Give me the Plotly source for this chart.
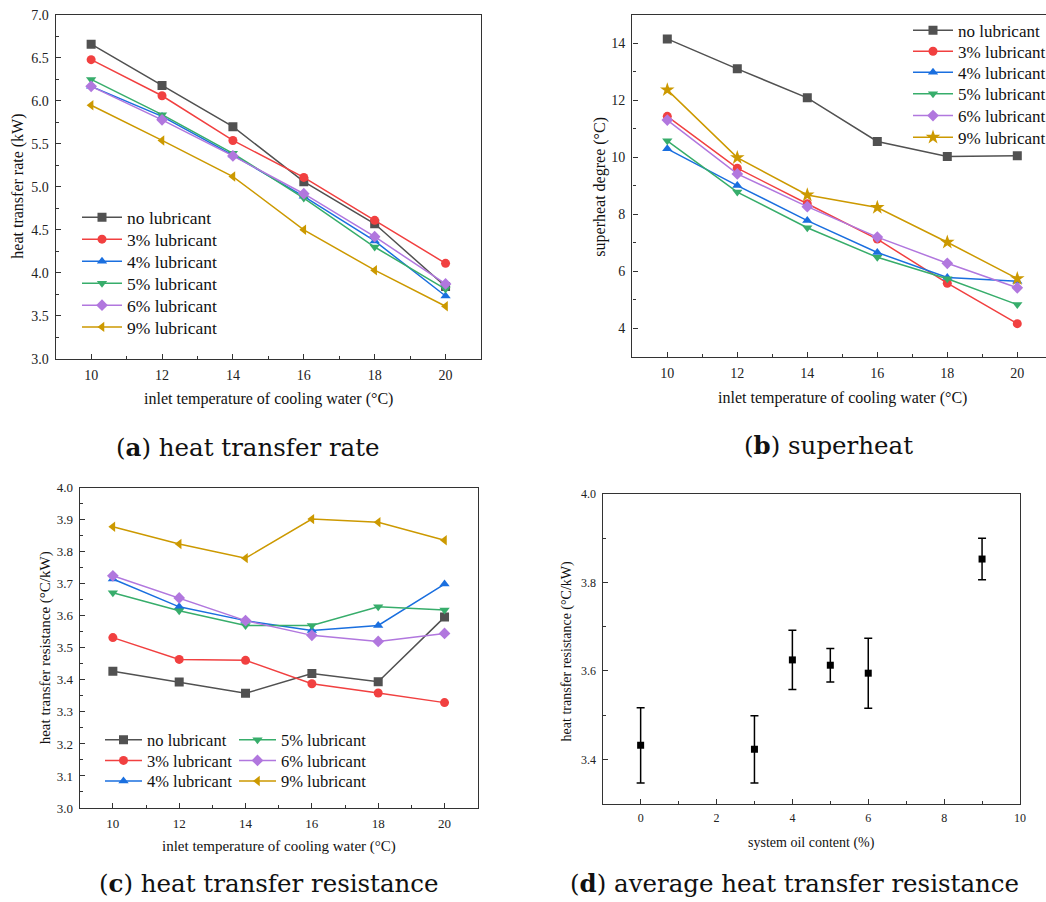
import plotly.graph_objects as go

# ---------------- data ----------------
temps = [10, 12, 14, 16, 18, 20]
series_names = ["no lubricant", "3% lubricant", "4% lubricant",
                "5% lubricant", "6% lubricant", "9% lubricant"]

# (a) heat transfer rate (kW)
rate_no = [6.66, 6.18, 5.70, 5.06, 4.57, 3.84]
rate_3 = [6.48, 6.06, 5.54, 5.11, 4.61, 4.11]
rate_4 = [6.17, 5.82, 5.37, 4.89, 4.37, 3.73]
rate_5 = [6.25, 5.84, 5.39, 4.87, 4.30, 3.81]
rate_6 = [6.17, 5.78, 5.36, 4.92, 4.42, 3.87]
rate_9 = [5.95, 5.54, 5.12, 4.50, 4.03, 3.61]

# (b) superheat degree (°C)
sh_no = [14.16, 13.11, 12.09, 10.56, 10.03, 10.06]
sh_3 = [11.44, 9.62, 8.37, 7.13, 5.58, 4.16]
sh_4 = [10.30, 9.01, 7.78, 6.66, 5.78, 5.65]
sh_5 = [10.58, 8.78, 7.53, 6.49, 5.74, 4.83]
sh_6 = [11.31, 9.42, 8.27, 7.20, 6.28, 5.42]
sh_9 = [12.37, 9.99, 8.68, 8.24, 7.02, 5.74]

# (c) heat transfer resistance (°C/kW)
res_no = [3.427, 3.393, 3.358, 3.420, 3.394, 3.596]
res_3 = [3.532, 3.464, 3.461, 3.388, 3.359, 3.329]
res_4 = [3.715, 3.628, 3.585, 3.554, 3.570, 3.699]
res_5 = [3.672, 3.616, 3.570, 3.570, 3.628, 3.618]
res_6 = [3.725, 3.656, 3.585, 3.539, 3.520, 3.545]
res_9 = [3.878, 3.824, 3.780, 3.902, 3.892, 3.836]

# (d) average heat transfer resistance
oil_content = [0, 3, 4, 5, 6, 9]
avg_res = [3.432, 3.423, 3.625, 3.613, 3.595, 3.853]
avg_err = [0.085, 0.076, 0.067, 0.038, 0.079, 0.047]

colors = ["#515151", "#F14040", "#1A6FDF", "#37AD6B", "#B177DE", "#CC9900"]
symbols_ac = ["square", "circle", "triangle-up", "triangle-down", "diamond", "triangle-left"]
symbols_b = ["square", "circle", "triangle-up", "triangle-down", "diamond", "star"]

FONT = "Liberation Serif"
CAP_FONT = "DejaVu Serif"
W, H = 1046, 902

fig = go.Figure()
legend_layout = {}
legend_counter = [0]


def new_legend(x, yc, size, itemwidth):
    legend_counter[0] += 1
    k = legend_counter[0]
    key = "legend" if k == 1 else f"legend{k}"
    legend_layout[key] = dict(
        x=x / W, y=1 - yc / H, xanchor="left", yanchor="middle",
        bgcolor="rgba(0,0,0,0)", borderwidth=0, itemwidth=itemwidth,
        font=dict(family=FONT, size=size, color="#111111"))
    return key


def add_series(ys, xa, ya, symbols, legend_pos, size, itemwidth):
    for i, (name, y) in enumerate(zip(series_names, ys)):
        lx, lyc = legend_pos[i]
        key = new_legend(lx, lyc, size, itemwidth)
        fig.add_trace(go.Scatter(
            x=temps, y=y, name=name, mode="lines+markers",
            xaxis=xa, yaxis=ya,
            line=dict(color=colors[i], width=1.5),
            marker=dict(symbol=symbols[i], size=11 if symbols[i] == "star" else 9,
                        color=colors[i], line=dict(width=0)),
            legend=key,
        ))


rows_a = [217.3, 239.3, 261.3, 283.3, 305.3, 327.0]
rows_b = [30.7, 51.7, 72.7, 94.3, 116.0, 137.7]
rows_c = [740.0, 760.7, 781.3]

add_series([rate_no, rate_3, rate_4, rate_5, rate_6, rate_9], "x", "y",
           symbols_ac, [(77, r) for r in rows_a], 17.5, 40)
add_series([sh_no, sh_3, sh_4, sh_5, sh_6, sh_9], "x2", "y2",
           symbols_b, [(908, r) for r in rows_b], 17, 40)
add_series([res_no, res_3, res_4, res_5, res_6, res_9], "x3", "y3",
           symbols_ac, [(100, r) for r in rows_c] + [(234, r) for r in rows_c], 16.5, 37)

fig.add_trace(go.Scatter(
    x=oil_content, y=avg_res, mode="markers", xaxis="x4", yaxis="y4",
    marker=dict(symbol="square", size=7, color="#000000"),
    error_y=dict(type="data", array=avg_err, visible=True, color="#000000",
                 thickness=1.5, width=4),
    showlegend=False,
))


def px_x(a, b):
    return [a / W, b / W]


def px_y(top, bottom):
    return [1 - bottom / H, 1 - top / H]


def axis(domain, rng, dtick, minor_dtick, anchor, tick0=None, mirror=True, fs=13, fmt=None):
    d = dict(domain=domain, range=rng, dtick=dtick, tick0=tick0 if tick0 is not None else rng[0],
             showline=True, linecolor="#333333", linewidth=1.4, mirror=mirror,
             ticks="inside", ticklen=5, tickwidth=1.2, tickcolor="#333333",
             showgrid=False, zeroline=False, anchor=anchor,
             ticklabelstandoff=3,
             tickfont=dict(family=FONT, size=fs, color="#222222"),
             minor=dict(ticks="inside", ticklen=3, tickwidth=1.1, tickcolor="#333333",
                        dtick=minor_dtick, showgrid=False))
    if fmt:
        d["tickformat"] = fmt
    return d


fig.update_layout(
    xaxis=axis(px_x(55.7, 481), [9, 21], 2, 1, "y", tick0=10, fs=14),
    yaxis=axis(px_y(15, 358.7), [3.0, 7.0], 0.5, 0.25, "x", fs=14, fmt=".1f"),
    xaxis2=axis(px_x(632.3, 1046), [9, 9 + (1046 - 632.3) / 35.0], 2, 1, "y2", tick0=10, fs=14),
    yaxis2=axis(px_y(15, 356.7), [3, 15], 2, 1, "x2", tick0=4, mirror=False, fs=14),
    xaxis3=axis(px_x(79.7, 477.7), [9, 21], 2, 1, "y3", tick0=10, fs=13),
    yaxis3=axis(px_y(487.7, 808), [3.0, 4.0], 0.1, 0.05, "x3", fs=13, fmt=".1f"),
    xaxis4=axis(px_x(602.7, 1020), [-1, 10], 2, 1, "y4", tick0=0, fs=12),
    yaxis4=axis(px_y(494, 803.7), [3.3, 4.0], 0.2, 0.1, "x4", tick0=3.4, fs=12, fmt=".1f"),
)

fig.update_layout(**legend_layout)


def ann(text, x, y, size, angle=0, family=FONT):
    fig.add_annotation(text=text, x=x / W, y=1 - y / H, xref="paper", yref="paper",
                       showarrow=False, textangle=angle, xanchor="center", yanchor="middle",
                       font=dict(family=family, size=size, color="#111111"))


xt = "inlet temperature of cooling water (°C)"
ann(xt, 268, 399, 16)
ann("heat transfer rate (kW)", 18, 186.7, 16, -90)
ann(xt, 842, 398, 16)
ann("superheat degree (°C)", 600, 186.7, 16, -90)
ann(xt, 278.8, 846.7, 15)
ann("heat transfer resistance (°C/kW)", 45, 648.3, 15, -90)
ann("system oil content (%)", 811, 843, 14)
ann("heat transfer resistance (°C/kW)", 566.7, 651.7, 14, -90)

ann("(<b>a</b>) heat transfer rate", 248, 447, 24.5, family=CAP_FONT)
ann("(<b>b</b>) superheat", 828, 445, 24.5, family=CAP_FONT)
ann("(<b>c</b>) heat transfer resistance", 269, 883, 24.5, family=CAP_FONT)
ann("(<b>d</b>) average heat transfer resistance", 794, 883, 24.5, family=CAP_FONT)

fig.update_layout(
    width=W, height=H,
    margin=dict(l=0, r=0, t=0, b=0, autoexpand=False),
    paper_bgcolor="white", plot_bgcolor="white",
    font=dict(family=FONT, color="#111111"),
)

fig.write_html("out.html")
